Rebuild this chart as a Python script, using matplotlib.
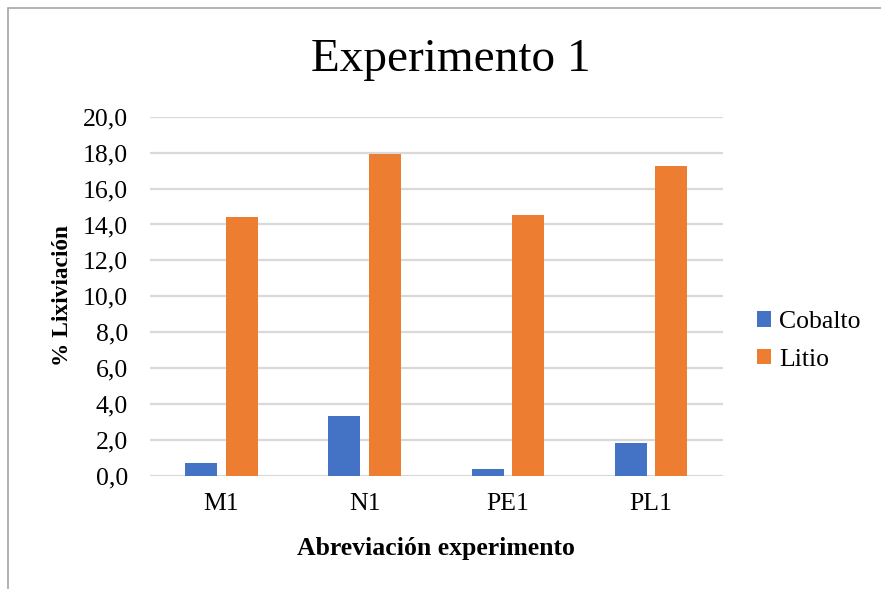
import matplotlib
matplotlib.use("Agg")
import matplotlib.pyplot as plt
import numpy as np
from matplotlib.font_manager import FontProperties
from matplotlib.patches import Rectangle

categories = ["M1", "N1", "PE1", "PL1"]
cobalto = [0.75, 3.33, 0.39, 1.82]
litio = [14.43, 17.95, 14.51, 17.25]
yticks = np.arange(0, 21, 2)

BLUE = "#4472C4"
ORANGE = "#ED7D31"
GRID = "#D9D9D9"

plt.rcParams["font.family"] = "serif"
plt.rcParams["font.serif"] = ["Liberation Serif", "DejaVu Serif"]

W, H = 881, 589
fig = plt.figure(figsize=(W / 100, H / 100), dpi=100)

# chart area border (cropped at right and bottom like the source)
fig.patches.append(Rectangle((8 / W, -0.05), 1.1, 1 - 8 / H + 0.05,
                             transform=fig.transFigure, fill=False,
                             edgecolor="#A6A6A6", linewidth=1.2))

left, right, top, bottom = 150, 722.7, 116.7, 476
ax = fig.add_axes([left / W, (H - bottom) / H, (right - left) / W, (bottom - top) / H])

x = np.arange(len(categories))
width = 0.224
off = 0.142
ax.bar(x - off, cobalto, width, color=BLUE, label="Cobalto", zorder=3)
ax.bar(x + off, litio, width, color=ORANGE, label="Litio", zorder=3)

ax.set_xlim(-0.5, len(categories) - 0.5)
ax.set_ylim(0, 20)
ax.set_yticks(yticks)
ax.set_yticklabels([f"{v:.1f}".replace(".", ",") for v in yticks], fontsize=18.5)
ax.set_xticks(x)
ax.set_xticklabels(categories, fontsize=18.5)
ax.tick_params(axis="y", length=0, pad=16)
ax.tick_params(axis="x", length=0, pad=12)
ax.grid(axis="y", color=GRID, linewidth=1.6, zorder=0)
for s in ax.spines.values():
    s.set_visible(False)

fig.text(451 / W, 1 - 60 / H, "Experimento 1", fontsize=34, ha="center", va="center")
fig.text(436 / W, 1 - 548 / H, "Abreviación experimento", fontsize=18.5,
         fontweight="bold", ha="center", va="center")
fig.text(62 / W, 1 - 296 / H, "% Lixiviación", fontsize=16.8, fontweight="bold",
         rotation=90, ha="center", va="center")

leg_font = FontProperties(family="Liberation Serif", size=18.5)
leg = fig.legend(loc="center left", bbox_to_anchor=(757 / W, 1 - 341 / H), frameon=False,
                 prop=leg_font, handlelength=0.55, handleheight=0.55, handletextpad=0.3,
                 labelspacing=0.6, borderpad=0, borderaxespad=0)

fig.savefig("out.png", dpi=100)
